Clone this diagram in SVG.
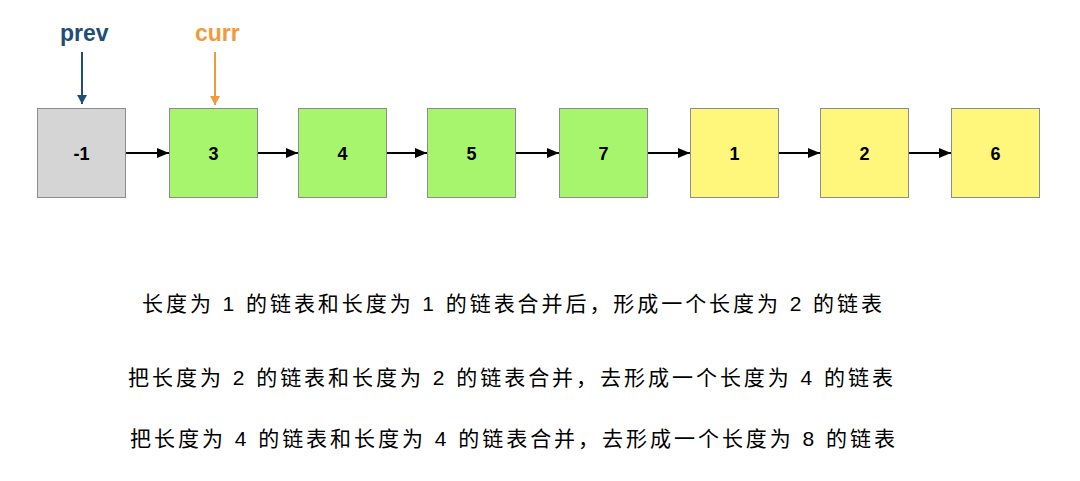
<svg xmlns="http://www.w3.org/2000/svg" width="1080" height="481" viewBox="0 0 1080 481">
<style>
.box{stroke:#8c8c8c;stroke-width:1}
.g{fill:#d5d5d5}.gr{fill:#a6f56d}.y{fill:#fff77b}
.lbl{font-family:"Liberation Sans",Arial,sans-serif;font-weight:bold;font-size:18px;fill:#000;text-anchor:middle}
.ptr{font-family:"Liberation Sans",Arial,sans-serif;font-weight:bold;font-size:23px}
.cn{font-family:"Liberation Sans","Noto Sans CJK SC",sans-serif;font-size:21px;fill:#000}
.link{stroke:#000;stroke-width:2;fill:none;marker-end:url(#ah)}
</style>
<defs>
<marker id="ah" markerWidth="12" markerHeight="10" refX="12" refY="5" orient="auto" markerUnits="userSpaceOnUse"><path d="M0,0 L12,5 L0,10 z" fill="#000"/></marker>
<marker id="ahb" markerWidth="10" markerHeight="10" refX="9" refY="5" orient="auto" markerUnits="userSpaceOnUse"><path d="M0,0 L9,5 L0,10 z" fill="#1f4e79"/></marker>
<marker id="aho" markerWidth="10" markerHeight="10" refX="9" refY="5" orient="auto" markerUnits="userSpaceOnUse"><path d="M0,0 L9,5 L0,10 z" fill="#f09a3e"/></marker>
</defs>
<rect width="1080" height="481" fill="#fff"/>
<g id="prev"><text class="ptr" x="60" y="41" fill="#1f4e79">prev</text><line x1="82" y1="52" x2="82" y2="104" stroke="#1f4e79" stroke-width="2" marker-end="url(#ahb)"/></g>
<g id="curr"><text class="ptr" x="195" y="41" fill="#f09a3e">curr</text><line x1="215" y1="52" x2="215" y2="105" stroke="#f09a3e" stroke-width="2" marker-end="url(#aho)"/></g>
<g id="n-1"><rect class="box g" x="37.5" y="108.5" width="88" height="89"/><text class="lbl" x="81.5" y="160">-1</text></g>
<g id="n3"><rect class="box gr" x="169.5" y="108.5" width="88" height="89"/><text class="lbl" x="213.5" y="160">3</text></g>
<g id="n4"><rect class="box gr" x="298.5" y="108.5" width="88" height="89"/><text class="lbl" x="342.5" y="160">4</text></g>
<g id="n5"><rect class="box gr" x="427.5" y="108.5" width="88" height="89"/><text class="lbl" x="471.5" y="160">5</text></g>
<g id="n7"><rect class="box gr" x="559.5" y="108.5" width="88" height="89"/><text class="lbl" x="603.5" y="160">7</text></g>
<g id="n1"><rect class="box y" x="690.5" y="108.5" width="88" height="89"/><text class="lbl" x="734.5" y="160">1</text></g>
<g id="n2"><rect class="box y" x="820.5" y="108.5" width="88" height="89"/><text class="lbl" x="864.5" y="160">2</text></g>
<g id="n6"><rect class="box y" x="951.5" y="108.5" width="88" height="89"/><text class="lbl" x="995.5" y="160">6</text></g>
<g id="connectors">
<line class="link" x1="126" y1="153" x2="169" y2="153"/>
<line class="link" x1="258" y1="153" x2="298" y2="153"/>
<line class="link" x1="387" y1="153" x2="427" y2="153"/>
<line class="link" x1="516" y1="153" x2="559" y2="153"/>
<line class="link" x1="648" y1="153" x2="690" y2="153"/>
<line class="link" x1="779" y1="153" x2="820" y2="153"/>
<line class="link" x1="909" y1="153" x2="951" y2="153"/>
</g>
<g id="notes">
<text class="cn" x="142" y="311" textLength="740" lengthAdjust="spacing">长度为 1 的链表和长度为 1 的链表合并后，形成一个长度为 2 的链表</text>
<text class="cn" x="128" y="385" textLength="765" lengthAdjust="spacing">把长度为 2 的链表和长度为 2 的链表合并，去形成一个长度为 4 的链表</text>
<text class="cn" x="130" y="446" textLength="765" lengthAdjust="spacing">把长度为 4 的链表和长度为 4 的链表合并，去形成一个长度为 8 的链表</text>
</g>
</svg>
